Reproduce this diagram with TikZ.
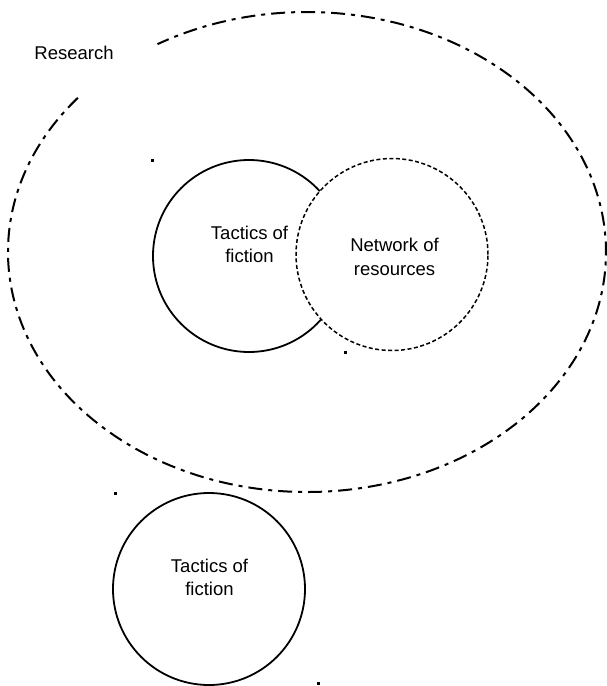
\documentclass[tikz,border=0pt]{standalone}
\usepackage{fontspec}
\setmainfont{Liberation Sans}
\tikzset{
    idea/.style={circle, draw, line width=1.8pt, minimum size=192pt, inner sep=0pt},
    words/.style={align=center, inner sep=0pt, font=\fontsize{18.5}{23.5}\selectfont},
    corner/.style={fill=black}
}
\begin{document}
\begin{tikzpicture}[x=1pt, y=-1pt]
                \useasboundingbox (0, 0) rectangle (606, 686);
                \draw[line width=2pt, dash pattern=on 14pt off 6pt on 4pt off 6pt]
                    (307, 252) ++(140:299pt and 240pt) arc[start angle=140, end angle=480, x radius=299pt, y radius=240pt];
                \node[words] (research) at (74, 53) {Research};
                \node[idea] (tactics) at (249, 256) {};
                \node[idea, dashed, dash pattern=on 4pt off 2.5pt, line width=1.5pt, fill=white] (network) at (392, 254.5) {};
                \node[idea] (tactics2) at (209, 589) {};
                \node[words] (tacticstext) at (249.5, 244.5) {Tactics of\\fiction};
                \node[words] (networktext) at (394.5, 257) {Network of\\resources};
                \node[words] (tactics2text) at (209.5, 577.5) {Tactics of\\fiction};
                \fill[corner] (151, 159) rectangle +(3, 3);
                \fill[corner] (344, 351) rectangle +(3, 3);
                \fill[corner] (114, 492) rectangle +(3, 3);
                \fill[corner] (317, 682) rectangle +(3, 3);
\end{tikzpicture}
\end{document}
